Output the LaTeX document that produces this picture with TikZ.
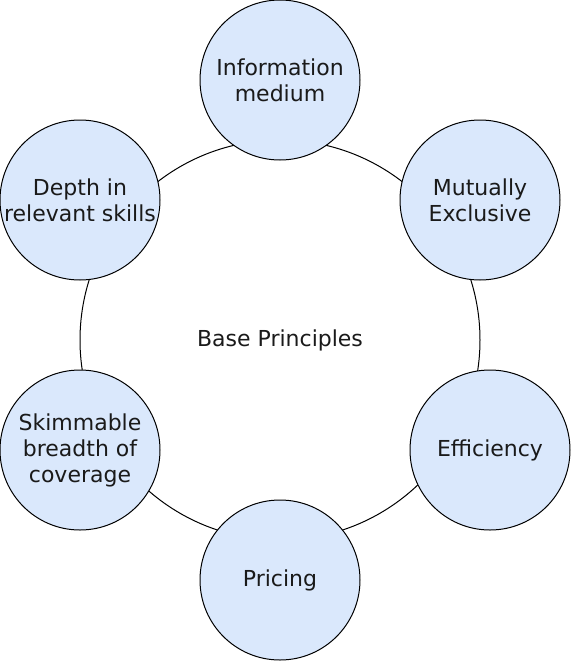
\documentclass[tikz,border=0pt]{standalone}
\usepackage{fontspec}
\setmainfont{DejaVu Sans}
\usepackage{xcolor}
\usepackage{tikz}
\definecolor{AzulPrincipio}{HTML}{DAE8FC}
\definecolor{TextoOscuro}{HTML}{1A1A1A}

\begin{document}
\begin{tikzpicture}[x=1pt,y=-1pt,line width=1pt,
    principio/.style={circle,draw=black,fill=AzulPrincipio,minimum size=160pt,
      inner sep=0pt,align=center,text=TextoOscuro,font=\fontsize{22}{26}\selectfont}]
  \useasboundingbox (0,0) rectangle (571,662);
  \node[circle,draw=black,minimum size=400pt,inner sep=0pt,text=TextoOscuro,
    font=\fontsize{22}{26}\selectfont] (base) at (280,340) {Base Principles};
  \node[principio] (medio) at (280,80) {Information\\medium};
  \node[principio] (mutuo) at (480,200) {Mutually\\Exclusive};
  \node[principio] (eficiencia) at (490,450) {Efficiency};
  \node[principio] (precio) at (280,580) {Pricing};
  \node[principio] (amplitud) at (80,450) {Skimmable\\breadth of\\coverage};
  \node[principio] (profundidad) at (80,200) {Depth in\\relevant skills};
\end{tikzpicture}
\end{document}
